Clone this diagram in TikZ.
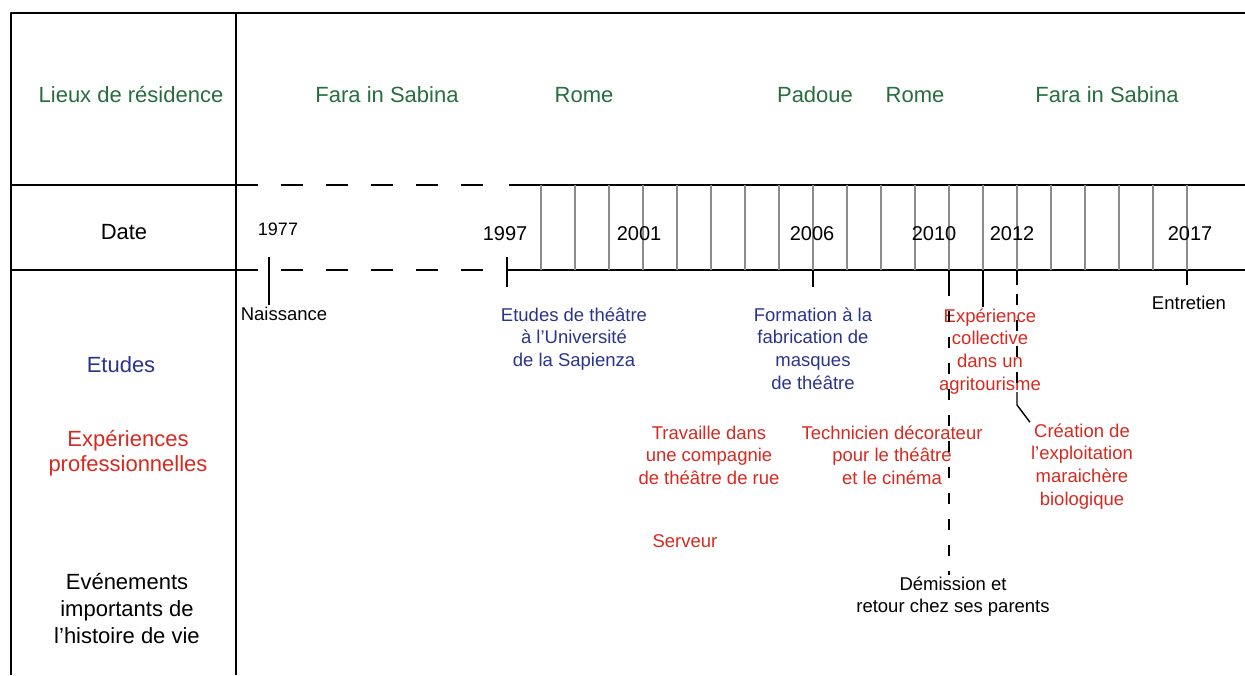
\documentclass[tikz,border=0pt]{standalone}
\usepackage{fontspec}
\setmainfont{Liberation Sans}
\definecolor{lieuvert}{RGB}{38,110,62}
\definecolor{etudebleu}{RGB}{42,52,140}
\definecolor{prorouge}{RGB}{214,42,32}
\tikzset{
	cadre/.style={line width=1.6pt},
	pointille/.style={line width=1.5pt, dash pattern=on 22pt off 23pt},
	tirets/.style={line width=1.2pt, dash pattern=on 11pt off 15pt},
	repere/.style={line width=1.4pt},
	anneetrait/.style={line width=1.2pt, black!45},
	titre/.style={anchor=base, align=center, inner sep=1pt, font=\fontsize{22}{25}\selectfont},
	lieu/.style={anchor=base, inner sep=1pt, text=lieuvert, font=\fontsize{22}{27}\selectfont},
	an/.style={anchor=base, inner sep=1pt, font=\fontsize{20}{24}\selectfont},
	evt/.style={anchor=base, align=center, inner sep=1pt, font=\fontsize{18.5}{22.7}\selectfont},
	etude/.style={evt, text=etudebleu},
	pro/.style={evt, text=prorouge}
}
\begin{document}
\begin{tikzpicture}[x=1pt, y=-1pt, line join=round]
	\useasboundingbox (0,0) rectangle (1245,675);
	% Cadre du tableau
	\draw[cadre] (1245,13) -- (11,13) -- (11,675);
	\draw[cadre] (236,13) -- (236,675);
	\draw[cadre] (11,185) -- (236,185);
	\draw[cadre] (11,270) -- (236,270);
	
	% Les annees sur l'axe
	\coordinate (a1977) at (269,270);
	\coordinate (a1997) at (507,270);
	\coordinate (a2006) at (813,270);
	\coordinate (a2010) at (949,270);
	\coordinate (a2011) at (983,270);
	\coordinate (a2012) at (1017,270);
	\coordinate (a2017) at (1187,270);
	
	% Bande des dates
	\draw[pointille] (236,185) -- (495,185);
	\draw[pointille] (236,270) -- (495,270);
	\draw[cadre] (509,185) -- (1245,185);
	\draw[cadre] (a1997) -- (1245,270);
	\foreach \i in {1,...,20}
		\draw[anneetrait] (507+34*\i,185) -- (507+34*\i,270);
	
	% Titres des lignes (base = derniere ligne)
	\node[titre, text=lieuvert] (lieux) at (131,102) {Lieux de résidence};
	\node[titre] (date) at (124,239) {Date};
	\node[titre, text=etudebleu] (etudes) at (121,372) {Etudes};
	\node[titre, text=prorouge] (experiences) at (128,471) {Expériences\\professionnelles};
	\node[titre, font=\fontsize{22}{27}\selectfont] (evenements) at (127,643) {Evénements\\importants de\\l’histoire de vie};
	
	% Lieux de residence
	\node[lieu] (fara1) at (387,102) {Fara in Sabina};
	\node[lieu] (rome1) at (584,102) {Rome};
	\node[lieu] (padoue) at (815,102) {Padoue};
	\node[lieu] (rome2) at (915,102) {Rome};
	\node[lieu] (fara2) at (1107,102) {Fara in Sabina};
	
	% Dates
	\node[an, font=\fontsize{18}{22}\selectfont] (t1977) at (278,235) {1977};
	\node[an] (t1997) at (505,240) {1997};
	\node[an] (t2001) at (639,240) {2001};
	\node[an] (t2006) at (812,240) {2006};
	\node[an] (t2010) at (934,240) {2010};
	\node[an] (t2012) at (1012,240) {2012};
	\node[an] (t2017) at (1190,240) {2017};
	
	% Evenements
	\node[evt] (naissance) at (284,320) {Naissance};
	\node[etude] (sapienza) at (574,366.4) {Etudes de théâtre\\à l’Université\\de la Sapienza};
	\node[etude] (formation) at (813,389.1) {Formation à la\\fabrication de\\masques\\de théâtre};
	\node[pro] (travaille) at (709,484.4) {Travaille dans\\une compagnie\\de théâtre de rue};
	\node[pro] (serveur) at (685,547) {Serveur};
	\node[pro] (technicien) at (892,484.4) {Technicien décorateur\\pour le théâtre\\et le cinéma};
	\node[pro] (experience) at (990,390.1) {Expérience\\collective\\dans un\\agritourisme};
	\node[pro] (creation) at (1082,505.1) {Création de\\l'exploitation\\maraichère\\biologique};
	\node[evt] (entretien) at (1189,309) {Entretien};
	\node[evt] (demission) at (953,612.7) {Démission et\\retour chez ses parents};
	
	% Reperes et liens
	\draw[repere] (a1977) ++(0,-13) -- (a1977 |- naissance.north);
	\draw[repere] (a1997) ++(0,-13) -- ++(0,30);
	\draw[repere] (a2006) -- ++(0,17);
	\draw[repere] (a2010) -- ++(0,15);
	\draw[tirets] (a2010) ++(0,15) -- (a2010 |- demission.north);
	\draw[repere] (a2011) -- (a2011 |- experience.north);
	\draw[repere] (a2012) -- ++(0,15);
	\draw[tirets] (a2012) ++(0,24) -- ++(0,98);
	\draw[repere] (a2012) ++(0,122) -- ++(0,13) -- (creation.north west);
	\draw[repere] (a2017) -- ++(0,15);
\end{tikzpicture}
\end{document}
